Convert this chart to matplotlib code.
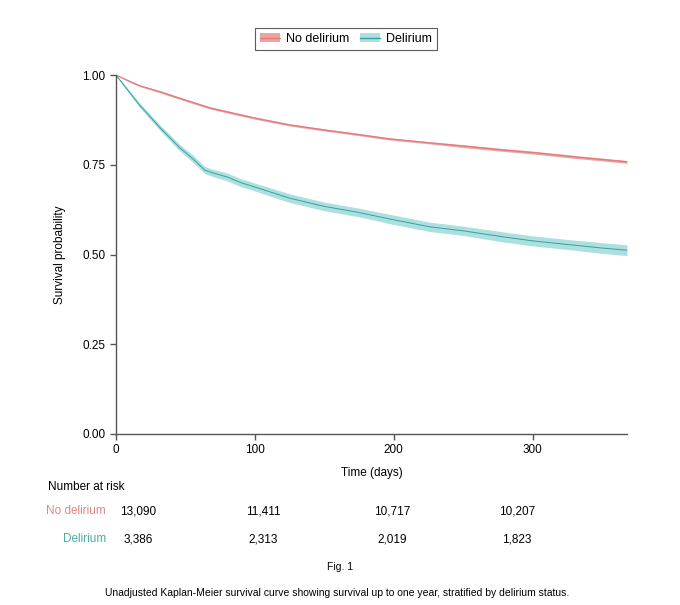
import matplotlib
matplotlib.use("Agg")
import matplotlib.pyplot as plt
import numpy as np
from matplotlib.patches import Patch
from matplotlib.lines import Line2D

plt.rcParams['font.family'] = ['Liberation Sans', 'DejaVu Sans']

# survival curves
days_nd = [0, 10, 17, 32, 50, 68, 85, 100, 125, 150, 175, 197, 226, 250, 279, 300, 330, 368]
surv_nd = [1.0, 0.982, 0.970, 0.953, 0.930, 0.908, 0.893, 0.880, 0.861, 0.847, 0.834, 0.822,
           0.811, 0.802, 0.791, 0.784, 0.772, 0.758]
ci_nd = [0.0, 0.002, 0.002, 0.003, 0.003, 0.003, 0.003, 0.003, 0.003, 0.003, 0.003, 0.003,
         0.003, 0.004, 0.004, 0.004, 0.004, 0.004]

days_d = [0, 5, 17, 32, 46, 55, 64, 70, 80, 90, 100, 125, 150, 175, 197, 226, 250, 279,
          300, 330, 350, 368]
surv_d = [1.0, 0.975, 0.916, 0.852, 0.797, 0.768, 0.735, 0.727, 0.716, 0.700, 0.688, 0.657,
          0.634, 0.617, 0.599, 0.577, 0.566, 0.549, 0.538, 0.526, 0.518, 0.512]
ci_d = [0.0, 0.004, 0.006, 0.008, 0.009, 0.010, 0.010, 0.010, 0.011, 0.011, 0.011, 0.012,
        0.012, 0.012, 0.013, 0.013, 0.013, 0.014, 0.014, 0.014, 0.015, 0.015]

# number at risk table
groups = ['No delirium', 'Delirium']
risk_nd = ['13,090', '11,411', '10,717', '10,207']
risk_d = ['3,386', '2,313', '2,019', '1,823']

red_line, red_fill = '#e07b7b', '#eea3a3'
teal_line, teal_fill = '#3a9e9e', '#ace0e0'
red_text, teal_text = '#e08585', '#4aacac'
axis_col = '#555555'

fig = plt.figure(figsize=(6.8, 6.05), dpi=100)
ax = fig.add_axes([116 / 680, 1 - 434 / 605, 511 / 680, 359 / 605])

for d, s, c, lc, fc, lw in [(days_nd, surv_nd, ci_nd, red_line, red_fill, 0.9),
                            (days_d, surv_d, ci_d, teal_line, teal_fill, 0.7)]:
    d, s, c = np.array(d), np.array(s), np.array(c)
    ax.fill_between(d, s - c, s + c, color=fc, lw=0)
    ax.plot(d, s, color=lc, lw=lw)

ax.set_xlim(0, 368)
ax.set_ylim(0, 1.0)
ax.set_xticks([0, 100, 200, 300])
ax.set_yticks([0, 0.25, 0.5, 0.75, 1.0])
ax.set_yticklabels(['0.00', '0.25', '0.50', '0.75', '1.00'])
for side in ['top', 'right']:
    ax.spines[side].set_visible(False)
for side in ['left', 'bottom']:
    ax.spines[side].set_color(axis_col)
    ax.spines[side].set_linewidth(1.0)
ax.tick_params(colors=axis_col, labelcolor='black', labelsize=8.5, length=4, width=1.0)
ax.set_xlabel('Time (days)', fontsize=8.5, va='center')
ax.xaxis.set_label_coords(0.5, -(473 - 434) / 359)
ax.set_ylabel('Survival probability', fontsize=8.5, va='center')
ax.yaxis.set_label_coords((60 - 116) / 511, 0.5)

# legend: band + line
h_nd = (Patch(facecolor=red_fill, edgecolor='none'), Line2D([], [], color=red_line, lw=1))
h_d = (Patch(facecolor=teal_fill, edgecolor='none'), Line2D([], [], color=teal_line, lw=1))
leg = fig.legend([h_nd, h_d], groups, loc='center', bbox_to_anchor=(346 / 680, 1 - 39 / 605),
                 ncol=2, fontsize=9, frameon=True, fancybox=False, edgecolor='#333333',
                 handlelength=1.6, handletextpad=0.5, columnspacing=0.8, borderpad=0.4)
leg.get_frame().set_linewidth(0.8)

# risk table
fig.text(48 / 680, 1 - 487 / 605, 'Number at risk', fontsize=8.5, va='center')
col_x = [138, 263, 392, 517]
row_y = [511, 539]
for name, vals, col, y in [(groups[0], risk_nd, red_text, row_y[0]),
                           (groups[1], risk_d, teal_text, row_y[1])]:
    fig.text(106 / 680, 1 - y / 605, name, fontsize=8.5, color=col, ha='right', va='center')
    for x, v in zip(col_x, vals):
        fig.text(x / 680, 1 - y / 605, v, fontsize=8.5, ha='center', va='center')

fig.text(340 / 680, 1 - 567 / 605, 'Fig. 1', fontsize=7.5, ha='center', va='center')
fig.text(337 / 680, 1 - 593 / 605,
         'Unadjusted Kaplan-Meier survival curve showing survival up to one year, '
         'stratified by delirium status.', fontsize=7.5, ha='center', va='center')

fig.savefig('out.png', dpi=100)
